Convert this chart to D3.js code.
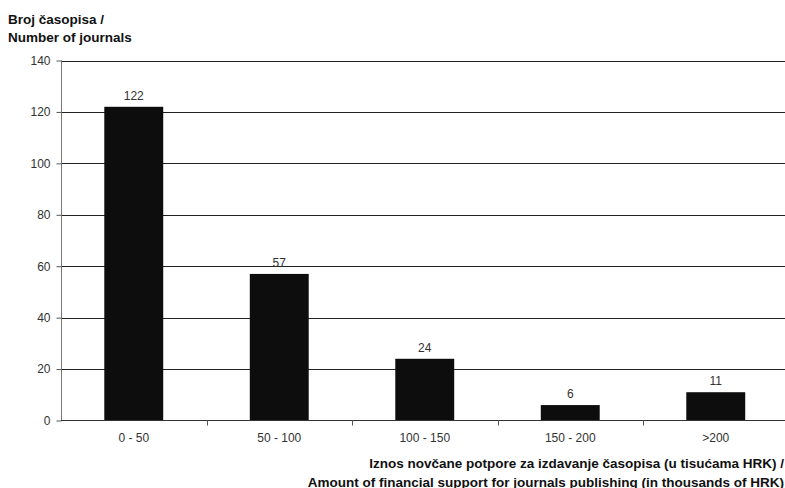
<!DOCTYPE html>
<html><head><meta charset="utf-8">
<script src="https://cdn.jsdelivr.net/npm/d3@7"></script>
<style>body{margin:0;background:#fff}svg{display:block}text{font-family:"Liberation Sans",Arial,sans-serif}</style>
</head><body><svg id="c" width="785" height="488"></svg>
<script>
const categories = ["0 - 50", "50 - 100", "100 - 150", "150 - 200", ">200"];
const values = [122, 57, 24, 6, 11];
const yTicks = [0, 20, 40, 60, 80, 100, 120, 140];
const yTitle = ["Broj časopisa /", "Number of journals"];
const xTitle = ["Iznos novčane potpore za izdavanje časopisa (u tisućama HRK) /", "Amount of financial support for journals publishing (in thousands of HRK)"];

const svg = d3.select("#c");
const L = 61, R = 788.5, T = 60.5, B = 420.5;
const x = d3.scaleBand().domain(categories).range([L, R]).paddingInner(0.595).paddingOuter(0.2975);
const y = d3.scaleLinear().domain([0, 140]).range([B, T]);

// grid
svg.append("g").selectAll("line").data(yTicks.filter(d => d > 0)).join("line")
  .attr("x1", L).attr("x2", 785).attr("y1", d => Math.round(y(d)) + 0.5).attr("y2", d => Math.round(y(d)) + 0.5)
  .attr("stroke", "#222").attr("stroke-width", 1);

// y axis
const ya = svg.append("g").attr("transform", `translate(${L + 0.5},0)`)
  .call(d3.axisLeft(y).tickValues(yTicks).tickSize(5).tickPadding(6));
ya.select(".domain").attr("stroke", "#777").attr("d", `M0,${T}V${B}`);
ya.selectAll(".tick line").attr("stroke", "#555");
ya.selectAll(".tick text").attr("font-size", 12).attr("fill", "#333").attr("font-family", "Liberation Sans, Arial, sans-serif");

// bars
svg.append("g").selectAll("rect").data(values).join("rect")
  .attr("x", (d, i) => x(categories[i])).attr("width", x.bandwidth())
  .attr("y", d => y(d)).attr("height", d => B - y(d)).attr("fill", "#0d0d0d");

// value labels
svg.append("g").selectAll("text").data(values).join("text")
  .attr("x", (d, i) => x(categories[i]) + x.bandwidth() / 2).attr("y", d => y(d) - 7)
  .attr("text-anchor", "middle").attr("font-size", 12).attr("fill", "#333").text(d => d);

// x axis
const step = x.step();
const bounds = d3.range(categories.length + 1).map(i => L + i * step);
svg.append("line").attr("x1", L).attr("x2", 785).attr("y1", B).attr("y2", B).attr("stroke", "#333");
svg.append("g").selectAll("line").data(bounds.slice(1)).join("line")
  .attr("x1", d => Math.round(d) + 0.5).attr("x2", d => Math.round(d) + 0.5).attr("y1", B).attr("y2", B + 5).attr("stroke", "#555");
svg.append("g").selectAll("text").data(categories).join("text")
  .attr("x", d => x(d) + x.bandwidth() / 2).attr("y", 442).attr("text-anchor", "middle")
  .attr("font-size", 12).attr("fill", "#333").text(d => d);

// titles
svg.append("g").selectAll("text").data(yTitle).join("text")
  .attr("x", 8).attr("y", (d, i) => 24 + i * 18).attr("font-size", 13.5).attr("font-weight", "bold").attr("fill", "#111").text(d => d);
svg.append("g").selectAll("text").data(xTitle).join("text")
  .attr("x", 784).attr("y", (d, i) => 468 + i * 18.5).attr("text-anchor", "end").attr("font-size", 13.5).attr("font-weight", "bold").attr("fill", "#111").text(d => d);
</script></body></html>
